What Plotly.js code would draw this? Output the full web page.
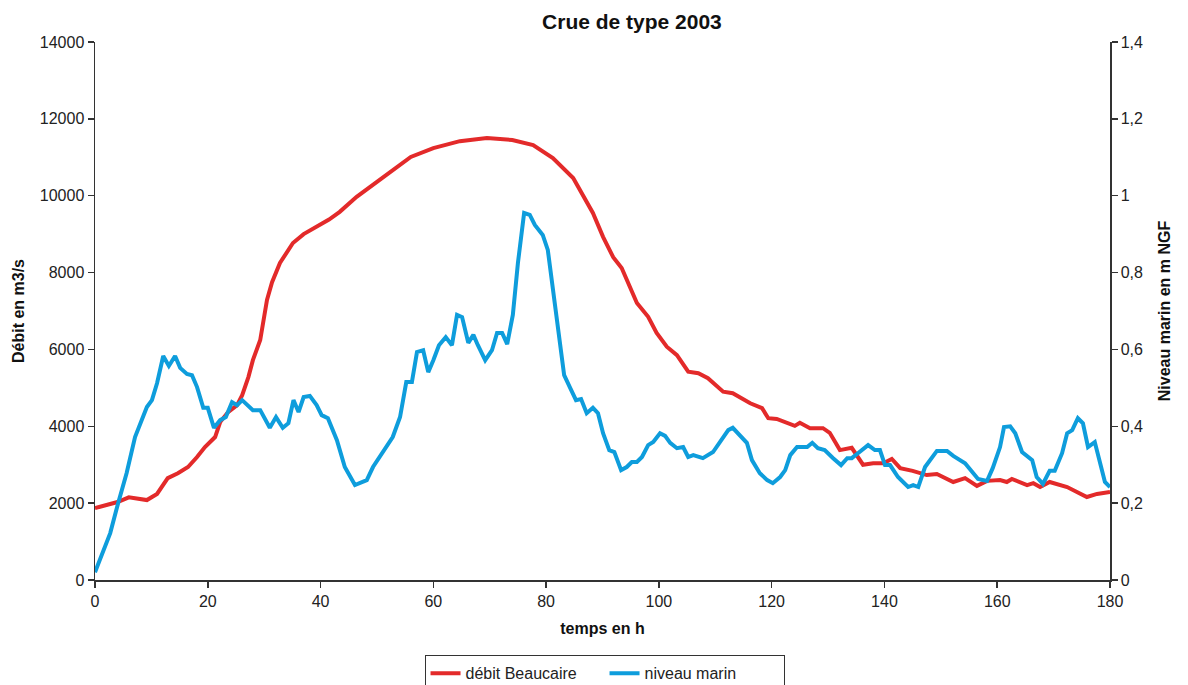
<!DOCTYPE html>
<html>
<head>
<meta charset="utf-8">
<script src="https://cdn.plot.ly/plotly-3.0.1.min.js"></script>
<style>html,body{margin:0;padding:0;background:#fff;}#chart{width:1188px;height:685px;}</style>
</head>
<body>
<div id="chart"></div>
<script>
// Débit Beaucaire (m3/s) vs time (h)
const debitHours = [0,2,4,6,8,9.2,11,12.9,14.7,16.5,18.1,19.5,21.3,22.2,23.6,25.2,26.1,27.2,28,29.3,30.5,31.4,32.8,35.1,37,39.4,41.5,43.4,46.4,50,53,56,60,64.7,69.5,74,77.7,81.2,84.8,86.9,88.3,90.1,91.9,93.4,94.9,96.1,98.1,99.6,101.4,103.2,105.2,107,108.7,111.4,113.1,116.2,118.3,119.4,120.9,122.7,124.1,125,126.8,129.1,130.3,132.1,134.2,136.2,138,139.8,141.3,142.8,145,147.5,149.3,152.2,154.3,156.4,158.2,160.5,161.7,162.6,165.3,166.4,167.6,169.3,172.4,175.9,177.7,180];
const debitValues = [1870,1950,2030,2150,2090,2080,2240,2650,2780,2940,3200,3460,3720,4110,4370,4550,4810,5280,5720,6245,7290,7750,8250,8770,9000,9190,9380,9580,9970,10360,10700,11010,11240,11420,11500,11450,11320,10980,10460,9890,9550,8930,8400,8120,7620,7210,6850,6430,6070,5850,5420,5380,5250,4900,4860,4600,4470,4210,4190,4090,4010,4090,3950,3950,3830,3380,3440,3000,3040,3040,3150,2910,2840,2730,2760,2550,2650,2450,2580,2600,2550,2630,2470,2520,2420,2550,2420,2160,2240,2290];

// Niveau marin (m NGF) vs time (h)
const niveauHours = [0,2.7,4.1,5.6,7.1,8,9.2,10.1,11,12.1,13.1,14.2,15.1,16.3,17.2,18.1,19.2,20,21.1,22.2,23.2,24.3,25.2,26.1,28,29.3,31,32.1,33.3,34.3,35.2,36.1,37,38.1,39.3,40.2,41.3,42.9,44.3,46.1,48.2,49.3,50.5,52,52.8,54.1,55.2,56.2,57.1,58.2,59.1,60,61,62.2,63.3,64.2,65.1,66.2,67.1,67.9,69.2,70.4,71.3,72.2,73.1,74.1,75,76.1,77.1,78,78.9,79.4,80.3,81.2,82.3,83.2,84.2,85.3,86.2,87.2,88.3,89.2,90.1,91.2,92.1,93.3,94.3,95.2,96.1,97,98.1,99,100.2,101.1,102,103.2,104.3,105.2,106.1,107.8,109.6,110.8,112.3,113.1,114.7,115.6,116.5,117.9,119.2,120.2,121.5,122.4,123.3,124.5,126.3,127.2,128.2,129.4,130.9,132.3,133.4,134.2,135.3,137.1,138.3,139.2,140.1,141,142.4,144.2,145.1,146,147.2,148.4,149.3,151.1,152.2,154.3,155.5,156.6,158.2,159.2,160.5,161.2,162.3,163.2,164.4,166.2,167,168.1,169.3,170.2,171.5,172.4,173.3,174.3,175.2,176.1,177.3,179.1,180];
const niveauValues = [0.02,0.122,0.2,0.278,0.372,0.403,0.45,0.468,0.512,0.583,0.557,0.583,0.552,0.536,0.533,0.502,0.448,0.448,0.396,0.416,0.424,0.463,0.455,0.468,0.442,0.442,0.396,0.424,0.396,0.408,0.468,0.437,0.476,0.479,0.455,0.429,0.421,0.364,0.294,0.247,0.26,0.294,0.32,0.351,0.372,0.424,0.515,0.515,0.593,0.598,0.541,0.572,0.611,0.632,0.611,0.69,0.684,0.617,0.638,0.611,0.572,0.598,0.643,0.643,0.614,0.69,0.825,0.955,0.95,0.924,0.906,0.898,0.859,0.762,0.643,0.533,0.502,0.468,0.471,0.434,0.448,0.434,0.382,0.338,0.333,0.286,0.294,0.307,0.307,0.32,0.351,0.359,0.382,0.375,0.357,0.343,0.346,0.32,0.325,0.317,0.333,0.357,0.39,0.396,0.372,0.357,0.312,0.278,0.26,0.252,0.268,0.286,0.325,0.346,0.346,0.357,0.343,0.338,0.317,0.299,0.317,0.317,0.33,0.351,0.338,0.338,0.299,0.299,0.268,0.242,0.247,0.242,0.294,0.32,0.336,0.336,0.323,0.304,0.284,0.263,0.258,0.291,0.346,0.398,0.4,0.382,0.333,0.312,0.268,0.25,0.284,0.284,0.33,0.382,0.39,0.421,0.408,0.346,0.359,0.255,0.242];

const xTicks = [0,20,40,60,80,100,120,140,160,180];
const leftTicks = [0,2000,4000,6000,8000,10000,12000,14000];
const rightTicks = [0,0.2,0.4,0.6,0.8,1,1.2,1.4];
const rightTickLabels = ['0','0,2','0,4','0,6','0,8','1','1,2','1,4'];

const FONT = 'Liberation Sans, Arial, Helvetica, sans-serif';
const axisCommon = {
  showline: true, linecolor: '#333', linewidth: 1.5,
  ticks: 'outside', ticklen: 6, tickcolor: '#333', tickwidth: 1.5,
  showgrid: false, zeroline: false, automargin: false,
  tickfont: {family: FONT, size: 16, color: '#222'}
};

const traces = [
  {x: debitHours, y: debitValues, type: 'scatter', mode: 'lines', name: 'débit Beaucaire',
   line: {color: '#e32a2a', width: 4}, yaxis: 'y'},
  {x: niveauHours, y: niveauValues, type: 'scatter', mode: 'lines', name: 'niveau marin',
   line: {color: '#0e9ddc', width: 4}, yaxis: 'y2'}
];

const layout = {
  width: 1188, height: 685,
  margin: {l: 95, r: 78, t: 42, b: 105, autoexpand: false},
  paper_bgcolor: '#fff', plot_bgcolor: '#fff',
  font: {family: FONT, color: '#000'},
  title: {text: '<b>Crue de type 2003</b>', font: {family: FONT, size: 21, color: '#111'},
          x: 0.529, xref: 'paper', xanchor: 'center', y: 0.969, yanchor: 'middle'},
  xaxis: Object.assign({}, axisCommon, {
    range: [0, 180], tickvals: xTicks,
    title: {text: '<b>temps en h</b>', font: {family: FONT, size: 16, color: '#111'}, standoff: 14}
  }),
  yaxis: Object.assign({}, axisCommon, {
    range: [0, 14000], tickvals: leftTicks, ticktext: leftTicks.map(String),
    title: {text: '<b>Débit en m3/s</b>', font: {family: FONT, size: 16, color: '#111'}, standoff: 11}
  }),
  yaxis2: Object.assign({}, axisCommon, {
    range: [0, 1.4], tickvals: rightTicks, ticktext: rightTickLabels,
    overlaying: 'y', side: 'right', anchor: 'x',
    title: {text: '<b>Niveau marin en m NGF</b>', font: {family: FONT, size: 16, color: '#111'}, standoff: 17}
  }),
  showlegend: true,
  legend: {orientation: 'h', x: 0.502, xanchor: 'center', y: -0.14, yanchor: 'top',
           bordercolor: '#333', borderwidth: 1, bgcolor: '#fff',
           itemwidth: 30, entrywidth: 134,
           font: {family: FONT, size: 16, color: '#222'}}
};

Plotly.newPlot('chart', traces, layout, {displayModeBar: false, staticPlot: true});
</script>
</body>
</html>
